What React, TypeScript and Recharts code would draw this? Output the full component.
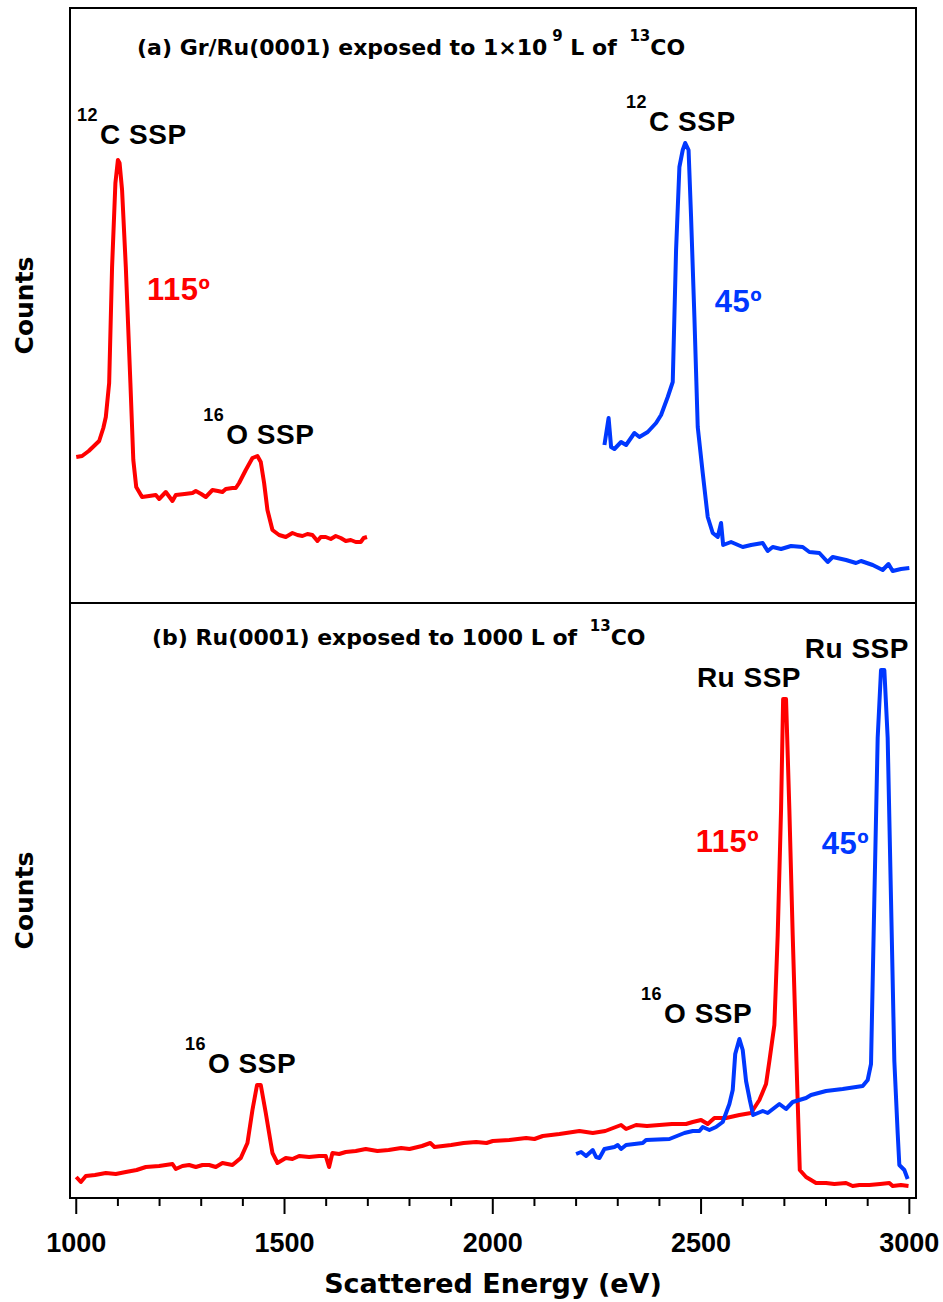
import React from "react";
import {
  LineChart,
  Line,
  XAxis,
  YAxis,
  ReferenceArea,
  ReferenceDot,
} from "recharts";

// Scattered energy (eV) vs counts (arbitrary units)
// (a) Gr/Ru(0001), 115 deg
const grRu115: [number, number][] = [
  [1000, 146], [1014, 147], [1030, 152], [1045, 158], [1055, 162], [1065, 175],
  [1071, 186], [1079, 220], [1086, 336], [1094, 420], [1100, 443], [1104, 440],
  [1110, 413], [1119, 336], [1130, 220], [1137, 143], [1144, 116], [1158, 106],
  [1175, 107], [1191, 108], [1199, 104], [1215, 111], [1231, 102], [1239, 108],
  [1260, 109], [1279, 110], [1287, 112], [1300, 109], [1311, 106], [1327, 113],
  [1340, 112], [1351, 111], [1359, 114], [1375, 115], [1383, 115], [1391, 120],
  [1407, 133], [1423, 145], [1435, 147], [1443, 141], [1451, 120], [1459, 93],
  [1471, 73], [1487, 68], [1503, 66], [1519, 70], [1531, 68], [1543, 67],
  [1555, 69], [1567, 68], [1579, 62], [1587, 66], [1599, 66], [1611, 64],
  [1623, 67], [1635, 65], [1647, 62], [1659, 63], [1671, 61], [1683, 61],
  [1690, 65], [1698, 66],
];

// (a) Gr/Ru(0001), 45 deg
const grRu45: [number, number][] = [
  [2268, 158], [2278, 185], [2284, 156], [2292, 154], [2308, 161], [2320, 158],
  [2340, 170], [2352, 166], [2372, 171], [2392, 180], [2404, 188], [2420, 206],
  [2432, 221], [2440, 353], [2448, 436], [2456, 453], [2462, 460], [2470, 453],
  [2476, 386], [2484, 286], [2492, 176], [2504, 130], [2516, 86], [2528, 70],
  [2540, 66], [2548, 80], [2553, 58], [2572, 61], [2600, 56], [2620, 58],
  [2648, 60], [2660, 52], [2672, 56], [2692, 54], [2716, 57], [2744, 56],
  [2760, 51], [2784, 50], [2804, 41], [2816, 46], [2848, 43], [2872, 40],
  [2884, 42], [2912, 38], [2936, 33], [2950, 39], [2960, 32], [2980, 34],
  [3000, 35],
];

// (b) Ru(0001), 115 deg
const ru115: [number, number][] = [
  [1000, 21], [1011, 16], [1023, 22], [1045, 23], [1071, 25], [1095, 24],
  [1119, 26], [1145, 28], [1167, 31], [1199, 32], [1231, 34], [1239, 29],
  [1255, 32], [1271, 33], [1287, 31], [1303, 33], [1319, 33], [1335, 31],
  [1351, 35], [1363, 34], [1375, 33], [1395, 40], [1411, 55], [1423, 88],
  [1434, 113], [1443, 113], [1455, 85], [1471, 45], [1483, 35], [1503, 40],
  [1519, 39], [1535, 42], [1559, 41], [1583, 42], [1599, 42], [1607, 31],
  [1615, 45], [1631, 44], [1647, 46], [1671, 47], [1695, 49], [1723, 47],
  [1750, 48], [1780, 50], [1800, 49], [1830, 52], [1850, 55], [1860, 51],
  [1880, 52], [1900, 53], [1930, 55], [1960, 56], [1985, 55], [2000, 57],
  [2040, 58], [2080, 60], [2100, 59], [2120, 62], [2160, 64], [2208, 67],
  [2240, 65], [2270, 67], [2308, 73], [2320, 69], [2344, 73], [2370, 72],
  [2400, 73], [2430, 74], [2464, 74], [2480, 76], [2500, 78], [2516, 74],
  [2532, 80], [2560, 80], [2592, 83], [2620, 85], [2640, 98], [2656, 114],
  [2664, 137], [2676, 173], [2684, 263], [2692, 388], [2697, 499], [2704, 499],
  [2712, 388], [2720, 263], [2729, 137], [2737, 28], [2752, 21], [2776, 15],
  [2800, 15], [2820, 14], [2848, 15], [2864, 12], [2880, 13], [2904, 13],
  [2930, 14], [2952, 15], [2960, 12], [2980, 13], [2998, 12],
];

// (b) Ru(0001), 45 deg
const ru45: [number, number][] = [
  [2200, 44], [2212, 46], [2224, 42], [2240, 48], [2248, 41], [2256, 40],
  [2268, 49], [2292, 51], [2300, 53], [2308, 49], [2320, 53], [2360, 55],
  [2368, 58], [2424, 59], [2460, 65], [2480, 67], [2496, 67], [2504, 71],
  [2520, 68], [2536, 71], [2552, 76], [2568, 94], [2576, 108], [2582, 144],
  [2592, 159], [2600, 148], [2608, 117], [2617, 98], [2625, 83], [2648, 87],
  [2660, 85], [2688, 94], [2704, 89], [2720, 96], [2752, 100], [2764, 103],
  [2800, 107], [2840, 109], [2888, 112], [2900, 118], [2908, 134], [2916, 299],
  [2924, 460], [2932, 528], [2940, 528], [2948, 460], [2956, 299], [2964, 137],
  [2972, 65], [2976, 33], [2988, 28], [2996, 19],
];

const energyTicks = [
  1000, 1100, 1200, 1300, 1400, 1500, 1600, 1700, 1800, 1900, 2000,
  2100, 2200, 2300, 2400, 2500, 2600, 2700, 2800, 2900, 3000,
];

type Part = { t: string; sup?: boolean };
type Note = { e: number; c: number; parts: Part[]; color: string; kind: "title" | "peak" | "angle" };

const notesA: Note[] = [
  { e: 1146, c: 548, kind: "title", color: "#000", parts: [
    { t: "(a) Gr/Ru(0001) exposed to 1×10" }, { t: "9", sup: true }, { t: " L of " },
    { t: "13", sup: true }, { t: "CO" },
  ] },
  { e: 1002, c: 459, kind: "peak", color: "#000", parts: [{ t: "12", sup: true }, { t: "C SSP" }] },
  { e: 1170, c: 303, kind: "angle", color: "#ff0000", parts: [{ t: "115º" }] },
  { e: 1305, c: 159, kind: "peak", color: "#000", parts: [{ t: "16", sup: true }, { t: "O SSP" }] },
  { e: 2320, c: 472, kind: "peak", color: "#000", parts: [{ t: "12", sup: true }, { t: "C SSP" }] },
  { e: 2533, c: 291, kind: "angle", color: "#0038ff", parts: [{ t: "45º" }] },
];

const notesB: Note[] = [
  { e: 1182, c: 553, kind: "title", color: "#000", parts: [
    { t: "(b) Ru(0001) exposed to 1000 L of " }, { t: "13", sup: true }, { t: "CO" },
  ] },
  { e: 1261, c: 125, kind: "peak", color: "#000", parts: [{ t: "16", sup: true }, { t: "O SSP" }] },
  { e: 2356, c: 175, kind: "peak", color: "#000", parts: [{ t: "16", sup: true }, { t: "O SSP" }] },
  { e: 2490, c: 511, kind: "peak", color: "#000", parts: [{ t: "Ru SSP" }] },
  { e: 2749, c: 540, kind: "peak", color: "#000", parts: [{ t: "Ru SSP" }] },
  { e: 2487, c: 346, kind: "angle", color: "#ff0000", parts: [{ t: "115º" }] },
  { e: 2790, c: 344, kind: "angle", color: "#0038ff", parts: [{ t: "45º" }] },
];

const DEJAVU = "'DejaVu Sans', sans-serif";
const LIB = "'Liberation Sans', Arial, sans-serif";
const RED = "#ff0000";
const BLUE = "#0038ff";
const X_DOMAIN: [number, number] = [985, 3016];
const Y_DOMAIN: [number, number] = [0, 595];

const noteStyle = {
  title: { family: DEJAVU, size: 22, supSize: 15, rise: 14, gap: 5, spacing: 0 },
  peak: { family: LIB, size: 28, supSize: 18, rise: 23, gap: 2, spacing: 0.5 },
  angle: { family: LIB, size: 31, supSize: 18, rise: 0, gap: 0, spacing: 0.5 },
};

const toRows = (pts: [number, number][]) => pts.map(([e, c]) => ({ e, c }));

const NoteText = ({ cx, cy, note }: any) => {
  const st = noteStyle[note.kind as "title"];
  let level = 0;
  const spans = note.parts.map((p: Part, i: number) => {
    const target = p.sup ? -st.rise : 0;
    const dy = target - level;
    level = target;
    // small gap before a raised part, none after it
    const dx = i > 0 && (p.sup || note.kind !== "title") ? st.gap : 0;
    return (
      <tspan key={i} dy={dy} dx={dx} fontSize={p.sup ? st.supSize : st.size}>
        {p.t}
      </tspan>
    );
  });
  return (
    <text
      x={cx}
      y={cy}
      fill={note.color}
      fontFamily={st.family}
      fontWeight="bold"
      letterSpacing={st.spacing}
      xmlSpace="preserve"
      style={{ whiteSpace: "pre" }}
    >
      {spans}
    </text>
  );
};

const CountsLabel = (props: any) => {
  const vb = props.viewBox || {};
  const x = (vb.x || 0) + 33;
  const y = vb.y + vb.height / 2;
  return (
    <text
      x={x}
      y={y}
      transform={`rotate(-90, ${x}, ${y})`}
      textAnchor="middle"
      fontFamily={DEJAVU}
      fontWeight="bold"
      fontSize={25}
      fill="#000"
    >
      Counts
    </text>
  );
};

const EnergyTick = ({ x, y, payload }: any) => {
  const major = payload.value % 500 === 0;
  return (
    <g>
      <line x1={x} x2={x} y1={y} y2={y + (major ? 16 : 8)} stroke="#000" strokeWidth={2} />
      {major && (
        <text x={x} y={y + 54} textAnchor="middle" fontFamily={LIB} fontWeight="bold" fontSize={27} fill="#000">
          {payload.value}
        </text>
      )}
    </g>
  );
};

const EnergyLabel = (props: any) => {
  const vb = props.viewBox || {};
  return (
    <text
      x={vb.x + vb.width / 2}
      y={vb.y + 95}
      textAnchor="middle"
      fontFamily={DEJAVU}
      fontWeight="bold"
      fontSize={27}
      fill="#000"
    >
      Scattered Energy (eV)
    </text>
  );
};

const renderNotes = (notes: Note[], prefix: string) =>
  notes.map((n, i) => (
    <ReferenceDot
      key={`${prefix}-${i}`}
      x={n.e}
      y={n.c}
      r={0}
      ifOverflow="visible"
      shape={(p: any) => <NoteText cx={p.cx} cy={p.cy} note={n} />}
    />
  ));

const frame = (
  <ReferenceArea
    x1={X_DOMAIN[0]}
    x2={X_DOMAIN[1]}
    y1={Y_DOMAIN[0]}
    y2={Y_DOMAIN[1]}
    fill="none"
    fillOpacity={0}
    stroke="#000"
    strokeWidth={2}
    ifOverflow="visible"
  />
);

const lineProps = {
  dataKey: "c",
  type: "linear" as const,
  dot: false,
  strokeWidth: 4,
  strokeLinejoin: "round" as const,
  isAnimationActive: false,
};

export default function App() {
  return (
    <div style={{ position: "absolute", left: 0, top: 0, width: 943, height: 1302, background: "#fff" }}>
      <div style={{ position: "absolute", left: 0, top: 0 }}>
        <LineChart width={943} height={1302} margin={{ top: 8, right: 27, bottom: 699, left: 0 }}>
          <XAxis type="number" dataKey="e" domain={X_DOMAIN} allowDataOverflow hide />
          <YAxis
            type="number"
            domain={Y_DOMAIN}
            allowDataOverflow
            width={70}
            tick={false}
            tickLine={false}
            axisLine={false}
            label={<CountsLabel />}
          />
          {frame}
          <Line {...lineProps} data={toRows(grRu115)} stroke={RED} />
          <Line {...lineProps} data={toRows(grRu45)} stroke={BLUE} />
          {renderNotes(notesA, "a")}
        </LineChart>
      </div>
      <div style={{ position: "absolute", left: 0, top: 0 }}>
        <LineChart width={943} height={1302} margin={{ top: 603, right: 27, bottom: 0, left: 0 }}>
          <XAxis
            type="number"
            dataKey="e"
            domain={X_DOMAIN}
            allowDataOverflow
            ticks={energyTicks}
            interval={0}
            height={104}
            tickSize={0}
            tickMargin={0}
            tickLine={false}
            axisLine={false}
            tick={<EnergyTick />}
            label={<EnergyLabel />}
          />
          <YAxis
            type="number"
            domain={Y_DOMAIN}
            allowDataOverflow
            width={70}
            tick={false}
            tickLine={false}
            axisLine={false}
            label={<CountsLabel />}
          />
          {frame}
          <Line {...lineProps} data={toRows(ru115)} stroke={RED} />
          <Line {...lineProps} data={toRows(ru45)} stroke={BLUE} />
          {renderNotes(notesB, "b")}
        </LineChart>
      </div>
    </div>
  );
}
